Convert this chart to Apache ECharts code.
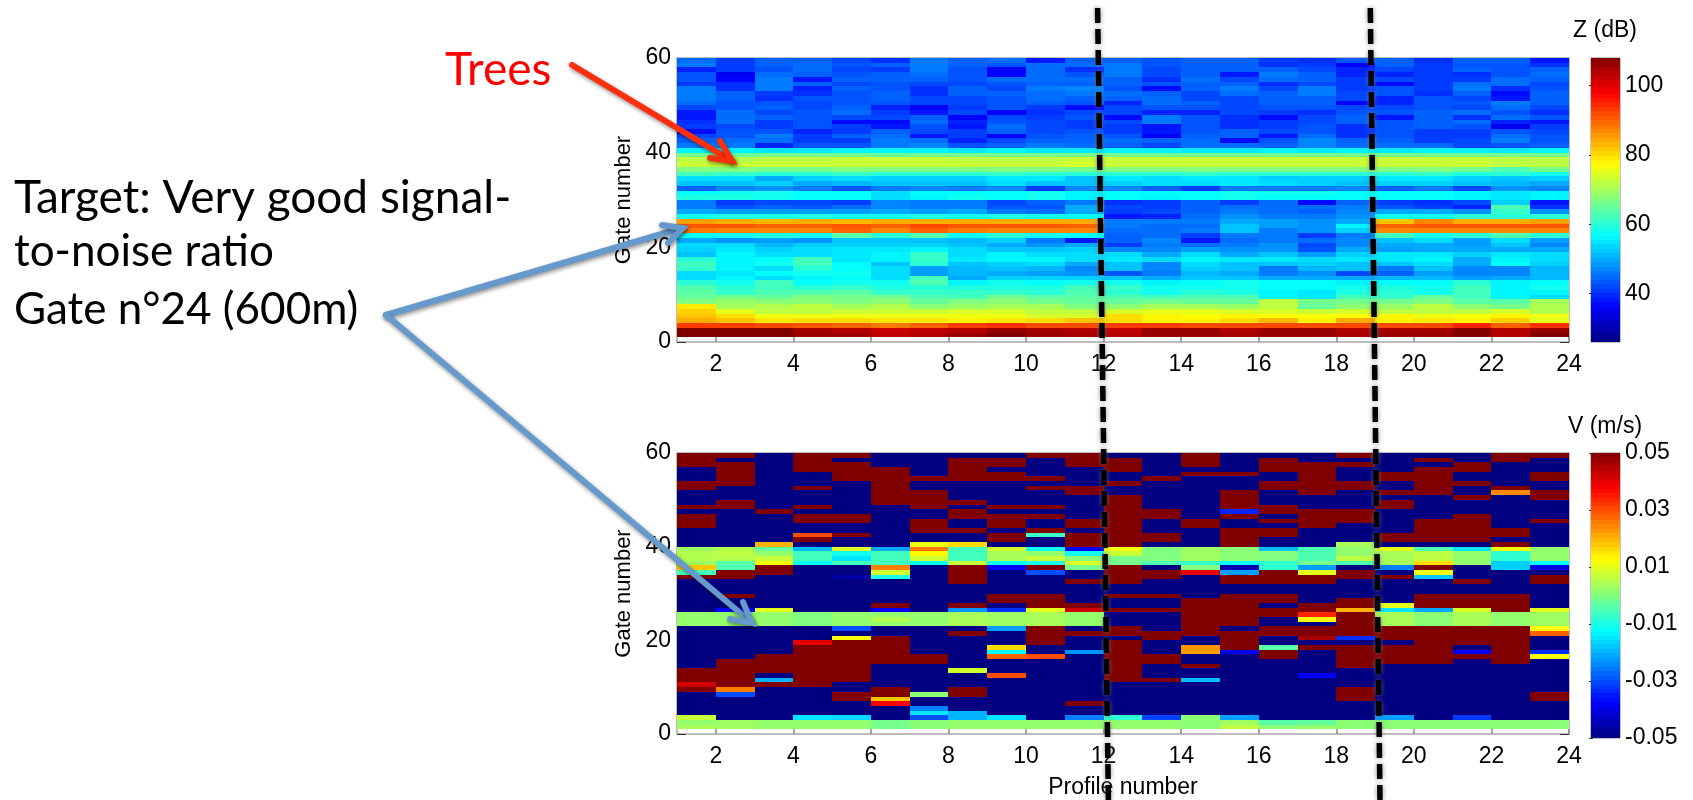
<!DOCTYPE html>
<html><head><meta charset="utf-8">
<style>html,body{margin:0;padding:0;background:#fff}#c{width:1693px;height:800px}</style>
<script src="https://cdn.jsdelivr.net/npm/echarts@6/dist/echarts.min.js"></script>
</head><body><div id="c"></div>
<script>
const xTicks = [2,4,6,8,10,12,14,16,18,20,22,24];
const yTicks = [0,20,40,60];
const zTicks = [40,60,80,100];
const vTicks = [-0.05,-0.03,-0.01,0.01,0.03,0.05];
const zRange = [26,108];
const vRange = [-0.05,0.05];

// Z (dB): rows from gate 59 down to gate 1, one value per profile 1..23
const zRows = [
[45,41,44,44,42,40,46,44,45,38,44,44,43,44,44,41,40,43,44,40,44,44,38],
[46,41,44,45,43,44,46,44,43,45,45,46,43,44,44,40,41,36,44,41,43,43,40],
[39,41,43,45,42,41,46,43,36,45,40,46,42,44,44,44,42,39,42,41,44,43,44],
[43,35,45,44,43,44,45,43,36,45,43,46,42,44,38,46,44,39,39,41,40,43,45],
[43,36,46,38,44,44,44,43,45,45,45,44,40,45,42,45,44,41,42,41,41,45,44],
[41,40,46,44,42,43,42,42,43,44,44,44,43,44,44,40,42,41,37,41,45,45,42],
[46,40,46,39,44,43,40,44,42,46,47,43,37,44,46,42,46,41,43,41,46,40,43],
[46,44,41,40,43,44,40,44,44,45,46,45,44,42,45,44,46,42,43,40,44,37,44],
[46,44,40,43,43,44,42,42,43,45,44,44,45,42,42,44,44,42,39,43,42,38,44],
[45,43,43,42,43,43,42,42,43,44,43,39,45,44,42,44,44,36,39,43,43,46,44],
[42,43,44,42,44,39,36,41,43,41,37,42,43,43,42,43,43,42,42,43,42,45,42],
[38,45,42,43,45,41,38,42,36,40,42,42,39,39,42,41,40,43,43,44,45,43,40],
[38,45,44,43,42,42,44,36,42,41,43,37,46,43,40,37,42,44,38,44,40,45,43],
[40,45,41,43,37,37,45,39,43,42,41,42,46,43,40,41,42,44,43,44,45,39,38],
[41,42,41,43,41,38,43,38,45,42,41,41,38,43,40,41,43,40,43,44,43,35,41],
[37,43,43,39,41,44,42,41,44,42,43,41,38,43,44,42,43,40,43,41,41,43,42],
[42,43,46,41,44,45,38,41,36,43,44,43,36,44,44,38,45,40,43,41,41,45,43],
[44,45,45,41,41,46,45,39,42,44,44,45,44,45,37,43,47,44,44,41,42,46,43],
[46,46,39,43,43,46,47,43,44,46,45,44,42,45,45,44,47,45,45,45,42,43,44],
[56,56,55,55,56,56,56,55,56,55,55,56,56,55,55,56,55,56,55,56,56,55,56],
[66,65,66,66,66,65,66,66,66,66,66,66,66,66,66,66,66,66,66,66,66,66,66],
[72,71,72,72,73,73,73,72,72,72,73,73,73,73,73,73,73,73,73,73,73,72,72],
[73,73,73,73,73,73,73,73,73,73,74,73,73,73,73,73,73,73,73,73,73,72,72],
[67,67,66,66,67,67,67,67,67,67,66,67,67,67,67,67,67,67,67,67,66,63,66],
[62,61,60,60,61,60,60,60,61,60,60,60,60,61,60,60,60,60,60,61,59,60,58],
[54,54,50,53,54,53,53,53,55,55,52,55,54,55,55,53,53,53,55,55,53,52,53],
[52,52,53,50,51,52,52,52,54,52,52,53,54,54,55,54,53,52,53,53,52,51,50],
[44,47,48,46,43,46,47,46,47,41,47,47,44,41,46,46,46,47,44,46,42,48,47],
[57,58,58,57,57,54,57,57,57,58,56,57,57,57,58,58,58,57,57,57,56,55,56],
[59,59,58,57,57,54,56,58,57,58,56,57,56,57,58,57,57,57,57,57,56,55,56],
[46,41,42,42,41,47,46,46,42,44,46,40,41,44,41,45,37,44,41,40,42,53,38],
[46,43,44,43,45,47,46,46,43,43,50,42,41,44,45,45,45,46,43,41,39,63,40],
[50,49,49,49,49,50,49,50,46,45,50,41,42,44,46,45,44,47,50,50,48,61,48],
[58,59,59,59,58,58,59,58,59,58,57,38,39,45,48,46,46,48,58,58,60,60,60],
[85,84,83,84,83,84,84,84,84,84,84,46,46,46,50,49,48,50,82,87,84,84,85],
[91,91,90,90,91,90,92,91,91,91,90,46,45,45,52,49,48,56,90,91,91,91,91],
[88,87,87,87,90,87,90,88,87,87,87,45,45,46,52,46,48,53,87,87,87,87,87],
[57,58,59,58,64,60,63,57,60,58,57,44,45,41,46,46,41,46,62,58,60,63,60],
[50,48,49,48,52,52,52,51,53,46,38,44,47,38,45,46,45,47,52,54,49,54,49],
[54,54,51,53,53,53,53,52,50,48,50,41,46,45,46,48,42,47,50,50,49,52,47],
[53,55,53,54,55,55,56,54,52,52,53,47,47,49,48,48,43,50,49,50,50,50,50],
[52,56,54,54,55,56,61,54,56,54,54,54,50,54,50,52,49,53,55,55,53,55,54],
[60,56,57,62,55,56,61,55,56,56,54,55,54,56,55,55,54,55,55,56,50,56,54],
[62,56,58,62,57,52,60,52,53,54,50,52,47,54,52,52,53,52,52,54,50,57,53],
[61,56,54,60,57,54,49,51,52,51,47,52,47,53,52,46,51,52,46,52,47,47,51],
[54,55,57,58,58,54,49,51,50,49,48,43,46,51,50,46,48,42,44,49,47,47,51],
[54,56,54,56,57,54,62,50,53,53,53,52,50,52,52,50,50,50,51,51,49,50,51],
[60,58,62,57,58,58,63,56,58,57,58,58,56,57,58,57,57,56,57,57,60,56,57],
[63,60,62,60,61,59,60,59,59,59,62,61,58,58,58,57,57,58,59,58,62,56,58],
[64,61,63,63,64,61,61,61,61,60,63,60,58,60,59,56,55,59,60,58,62,56,56],
[65,66,65,67,66,66,63,62,66,64,64,63,62,63,63,56,55,62,61,65,62,56,54],
[67,69,68,68,67,68,65,67,68,66,65,65,66,65,65,72,66,66,66,67,64,64,70],
[79,70,71,72,70,71,68,69,70,70,67,68,70,70,69,72,65,68,69,72,68,66,71],
[81,75,72,72,73,73,73,74,74,72,72,74,75,75,74,74,73,74,72,72,72,74,71],
[82,80,76,76,76,76,76,76,76,74,74,80,78,77,78,77,77,77,78,76,77,78,76],
[84,82,79,80,80,79,79,78,79,80,82,80,78,78,80,83,78,84,78,79,78,81,75],
[93,93,92,91,90,88,90,93,94,92,92,93,93,92,92,92,92,92,92,92,95,90,94],
[108,108,108,105,104,102,103,104,106,105,104,103,106,106,104,106,106,104,105,105,108,104,106],
[108,108,108,106,106,103,104,106,108,106,105,104,106,106,105,106,106,105,106,106,108,104,108]
];

// V (cm/s): for each profile, runs of [value, number of gates] from gate 59 downward
const H = 5, L = -5;
const vRuns = [
[[H,3],[L,3],[H,2],[L,3],[H,1],[L,1],[H,3],[L,4],[.3,1],[.5,2],[.3,1],[1.8,1],[-.6,1],[H,1],[L,7],[.2,3],[L,9],[H,3],[4.2,1],[H,1],[L,5],[.7,1],[.2,1],[.4,1]],
[[H,1],[L,1],[H,5],[L,3],[H,2],[L,8],[.5,1],[.6,1],[.5,1],[-.4,1],[-.5,1],[H,2],[L,3],[H,1],[L,2],[-3.7,1],[.2,3],[L,7],[H,6],[2.5,1],[-3,1],[L,5],[.3,2]],
[[L,12],[H,1],[L,6],[2,1],[-.3,1],[.2,1],[.7,1],[1.3,1],[H,2],[L,7],[1,1],[.2,3],[L,6],[H,4],[L,1],[-2,1],[H,1],[L,7],[.2,2]],
[[H,4],[L,3],[H,1],[L,3],[H,1],[L,1],[H,2],[L,2],[3,1],[H,1],[L,1],[-1.9,1],[-.6,2],[-1.2,1],[L,10],[0,3],[L,3],[4,1],[H,9],[L,6],[-1.5,1],[.2,2]],
[[H,1],[L,1],[H,4],[L,7],[H,2],[L,2],[H,1],[L,2],[.9,1],[-1.1,1],[-1.5,1],[-.6,1],[L,2],[-4.6,1],[L,7],[.2,3],[-3,1],[L,1],[1.2,1],[H,9],[L,2],[H,2],[L,3],[-1.6,1],[.2,2]],
[[L,3],[H,8],[L,9],[-2.1,1],[-.6,3],[2.5,1],[.8,1],[-1,1],[L,5],[H,1],[-3.8,1],[.2,1],[.5,1],[.2,1],[L,2],[H,6],[L,5],[H,2],[1.8,1],[3.8,1],[L,3],[-.1,2]],
[[L,5],[H,1],[L,2],[H,4],[L,2],[H,3],[L,2],[1.1,1],[2.6,1],[1.3,1],[.8,1],[-1.2,1],[L,10],[.2,3],[L,6],[H,2],[L,6],[.1,1],[L,2],[-2.5,1],[-1.5,1],[-3,1],[.1,2]],
[[L,1],[H,5],[L,4],[H,1],[L,1],[H,2],[L,2],[H,1],[L,2],[1.6,1],[-.6,3],[.7,1],[H,4],[L,4],[H,1],[-2.3,1],[.4,3],[L,1],[H,1],[L,7],[.8,1],[L,3],[H,2],[L,3],[-2,2],[.2,2]],
[[L,1],[H,2],[L,1],[H,2],[L,5],[H,1],[L,1],[H,3],[L,1],[H,2],[L,1],[.8,1],[.4,2],[-1.1,1],[-3.8,1],[L,5],[H,2],[L,1],[-3.3,1],[.3,3],[-2.2,1],[L,3],[1.6,1],[-1.2,1],[2.8,1],[L,3],[3,1],[L,8],[-1.5,1],[.2,2]],
[[H,1],[L,4],[H,1],[L,1],[H,1],[L,3],[H,1],[L,1],[H,1],[L,2],[H,1],[-.7,1],[L,2],[-1.2,1],[.2,1],[.7,1],[-1,1],[H,1],[-3,1],[L,4],[H,3],[1,1],[.4,3],[H,4],[L,2],[3,1],[L,13],[.2,2]],
[[H,3],[L,4],[H,2],[L,5],[H,2],[L,1],[H,3],[-3.8,1],[-1.1,1],[.1,1],[.9,1],[-.1,1],[L,2],[H,1],[L,4],[H,1],[4.2,1],[.2,3],[L,1],[H,1],[L,3],[-2.3,1],[L,10],[H,1],[L,2],[-2.5,1],[.2,2]],
[[L,1],[H,3],[L,2],[H,1],[L,2],[H,11],[1.2,1],[.7,1],[-.1,2],[H,4],[L,2],[H,1],[L,2],[H,1],[L,3],[H,2],[L,1],[H,9],[L,7],[-.8,1],[.2,2]],
[[L,5],[H,1],[L,6],[H,2],[L,3],[H,2],[L,1],[0,3],[-.5,1],[L,1],[H,2],[L,3],[H,1],[L,2],[H,1],[L,4],[H,2],[L,3],[H,2],[L,3],[H,1],[L,7],[-3.1,1],[.2,2]],
[[H,3],[L,1],[H,1],[L,9],[H,2],[L,4],[.3,3],[-.7,1],[0,1],[4,1],[L,5],[H,8],[L,2],[2.3,1],[2.2,1],[L,2],[H,1],[L,2],[-1.9,1],[L,7],[.1,3]],
[[L,4],[H,1],[L,3],[H,4],[-3.4,1],[H,1],[L,2],[H,4],[.1,3],[-1.2,1],[-4.5,1],[-2.2,1],[H,2],[L,2],[H,7],[L,1],[H,4],[-3.9,1],[L,13],[-2.2,1],[.3,1],[.6,1]],
[[L,1],[H,3],[L,2],[H,2],[L,3],[H,2],[L,1],[H,1],[L,1],[H,2],[L,2],[-1.9,1],[0,2],[-.8,2],[H,3],[L,2],[H,2],[L,1],[H,2],[L,2],[H,2],[L,2],[-.4,1],[H,2],[L,13],[-.4,1],[.1,1]],
[[L,2],[H,7],[L,3],[H,4],[L,4],[-.5,3],[-.1,1],[-2.2,1],[1,1],[H,2],[L,4],[H,2],[3.4,1],[1.2,1],[L,1],[H,2],[4.6,1],[L,1],[H,1],[L,5],[-3.8,1],[L,9],[-.3,1],[.2,1]],
[[H,1],[L,1],[H,1],[L,3],[H,2],[L,4],[H,3],[L,4],[.4,1],[.2,2],[.6,1],[-.5,1],[L,1],[H,2],[L,4],[H,2],[2,1],[H,5],[-3.3,1],[L,1],[H,5],[L,4],[H,3],[L,4],[.1,2]],
[[L,4],[H,2],[L,2],[H,1],[L,1],[H,2],[L,5],[H,2],[L,1],[1,1],[.4,3],[-2.5,1],[L,1],[H,1],[L,5],[1,1],[-1.5,1],[.4,3],[H,3],[L,1],[H,4],[L,11],[-2.2,1],[.1,2]],
[[L,1],[H,1],[L,1],[H,6],[L,5],[H,5],[L,1],[-.5,1],[.6,2],[1.6,1],[H,1],[1.1,1],[-1.8,1],[L,3],[H,3],[-2.1,1],[.1,3],[H,8],[L,12],[.1,2]],
[[L,2],[H,2],[L,2],[H,1],[L,2],[H,1],[L,3],[H,6],[L,1],[-1.5,1],[.2,3],[L,3],[H,1],[L,2],[H,3],[.9,1],[.4,3],[H,4],[L,1],[-3.8,1],[H,1],[L,12],[-3.2,1],[.1,2]],
[[H,2],[L,5],[H,1],[2.4,1],[L,7],[H,2],[L,1],[H,1],[1.2,1],[-.8,2],[-1.7,2],[L,5],[H,4],[.2,3],[H,8],[L,12],[.1,2]],
[[H,1],[L,3],[H,2],[L,2],[H,2],[L,4],[H,1],[L,5],[.2,3],[-1.2,1],[-4,1],[L,1],[H,2],[L,5],[1,1],[.3,3],[1.2,1],[2.8,1],[L,3],[-3.3,1],[1.2,1],[L,7],[H,2],[L,4],[.1,2]]
];

// jet colour stops, evenly spaced
const jet = ['#000080','#0000ff','#0080ff','#00ffff','#80ff80','#ffff00','#ff8000','#ff0000','#800000'];
const AX = {left:677,width:892}, CB = {left:1591,width:29};
const P1 = {top:58,height:284}, P2 = {top:453,height:285};
const font = 'Liberation Sans, Arial, sans-serif';

function bandData(r){const n=64,d=[];for(let i=0;i<n;i++){const a=r[0]+(r[1]-r[0])*i/n,b=r[0]+(r[1]-r[0])*(i+1)/n;d.push([0,a,(a+b)/2,1,b]);}return d;}
const zData=[]; zRows.forEach((row,i)=>row.forEach((v,j)=>zData.push([j+1,59-i,v,j+2,60-i])));
const vData=[]; vRuns.forEach((runs,j)=>{let g=59;runs.forEach(([v,n])=>{for(let k=0;k<n;k++){vData.push([j+1,g,v/100,j+2,g+1]);g--;}});});

function renderCell(params,api){
  const p1=api.coord([api.value(0),api.value(4)]),p2=api.coord([api.value(3),api.value(1)]);
  const x=Math.round(p1[0]),y=Math.round(p1[1]);
  return {type:'rect',shape:{x:x,y:y,width:Math.round(p2[0])-x,height:Math.round(p2[1])-y},style:{fill:api.visual('color')}};
}
function cells(data,xi,yi){return {type:'custom',xAxisIndex:xi,yAxisIndex:yi,data:data,renderItem:renderCell,encode:{x:[0,3],y:[1,4]},dimensions:['a','b','c','d','e'],silent:true,animation:false,progressive:0,clip:true,z:2};}

const grids=[
 {left:AX.left,width:AX.width,top:P1.top,height:P1.height,show:true,borderColor:'#a8a8a8',borderWidth:1.5,backgroundColor:'#fff'},
 {left:AX.left,width:AX.width,top:P2.top,height:P2.height,show:true,borderColor:'#a8a8a8',borderWidth:1.5,backgroundColor:'#fff'},
 {left:CB.left,width:CB.width,top:P1.top,height:P1.height,show:true,borderColor:'#888',borderWidth:1},
 {left:CB.left,width:CB.width,top:P2.top,height:P2.height,show:true,borderColor:'#888',borderWidth:1}
];
const xMain=(g,name)=>({type:'value',gridIndex:g,min:1,max:24,name:name,nameLocation:'middle',nameGap:42,nameTextStyle:{fontFamily:font,fontSize:23,color:'#000'},
  axisLine:{show:false},splitLine:{show:false},axisTick:{show:true,inside:true,length:5,customValues:xTicks,lineStyle:{color:'#888',width:1.5}},
  axisLabel:{customValues:xTicks,margin:11,fontFamily:font,fontSize:23,color:'#000'}});
const yMain=g=>({type:'value',gridIndex:g,min:0,max:60,name:'Gate number',nameLocation:'middle',nameRotate:90,nameGap:39,nameTextStyle:{fontFamily:font,fontSize:22,color:'#000'},
  axisLine:{show:false},splitLine:{show:false},axisTick:{show:true,inside:true,length:9,customValues:yTicks,lineStyle:{color:'#333',width:1}},
  axisLabel:{customValues:yTicks,margin:6,padding:[0,0,5,0],fontFamily:font,fontSize:23,color:'#000'}});
const yRight=g=>({type:'value',gridIndex:g,position:'right',min:0,max:60,axisLine:{show:false},splitLine:{show:false},axisLabel:{show:false},
  axisTick:{show:true,inside:true,length:9,customValues:yTicks,lineStyle:{color:'#333',width:1}}});
const xCb=g=>({type:'value',gridIndex:g,min:0,max:1,show:false});
const yCb=(g,r,t,fmt)=>({type:'value',gridIndex:g,position:'right',min:r[0],max:r[1],axisLine:{show:false},splitLine:{show:false},
  axisTick:{show:true,inside:true,length:2,customValues:t,lineStyle:{color:'#333'}},
  axisLabel:{customValues:t,margin:5,fontFamily:font,fontSize:23,color:'#000',formatter:fmt}});
const yCbL=(g,r,t)=>({type:'value',gridIndex:g,position:'left',min:r[0],max:r[1],axisLine:{show:false},splitLine:{show:false},axisLabel:{show:false},
  axisTick:{show:true,inside:true,length:2,customValues:t,lineStyle:{color:'#333'}}});

const shadow={shadowColor:'rgba(0,0,0,0.45)',shadowBlur:4,shadowOffsetX:1,shadowOffsetY:2};
const BLUE='#6699cc', RED='#ff2f0e';
function seg(a,b,color,w,extra){return {type:'line',z:100,shape:{x1:a[0],y1:a[1],x2:b[0],y2:b[1]},style:Object.assign({stroke:color,lineWidth:w,lineCap:'round'},shadow,extra||{})};}
function head(a,t,b,color,w){return {type:'polyline',z:100,shape:{points:[a,t,b]},style:Object.assign({stroke:color,fill:null,lineWidth:w,lineJoin:'miter',lineCap:'round'},shadow)};}
function txt(s,x,y,size,color){return {type:'text',z:99,x:x,y:y,style:{text:s,fontFamily:'Lato, Carlito, sans-serif',fontSize:size,fill:color,textVerticalAlign:'middle'}};}
function ttl(s,x,y){return {type:'text',z:99,x:x,y:y,style:{text:s,fontFamily:font,fontSize:23,fill:'#000',textAlign:'center',textVerticalAlign:'middle'}};}
const dash={lineDash:[15,6],lineCap:'butt',shadowColor:'rgba(120,120,120,0.8)',shadowBlur:5,shadowOffsetX:0,shadowOffsetY:0};

const graphics=[
 txt('Trees',445,70,46,'#ff0000'),
 txt('Target: Very good signal-',14,198,46,'#000'),
 txt('to-noise ratio',14,252,44,'#000'),
 txt('Gate n\u00b024 (600m)',14,310,44,'#000'),
 ttl('Z (dB)',1605,31),
 ttl('V (m/s)',1605,427),
 seg([1097.6,8],[1108.4,800],'#000',5.5,dash),
 seg([1370.3,8],[1380,800],'#000',5.5,dash),
 seg([572,65],[732,161],RED,6),
 head([710,158],[732,161],[720,141],RED,6),
 seg([386,315],[682,228],BLUE,6),
 head([662,225],[683,228],[668,243],BLUE,6),
 seg([386,315],[751,622],BLUE,6),
 head([730,619],[752,623],[743,602],BLUE,6)
];

const chart=echarts.init(document.getElementById('c'),null,{renderer:'canvas'});
chart.setOption({
 animation:false,
 backgroundColor:'#fff',
 grid:grids,
 xAxis:[xMain(0,''),xMain(1,'Profile number'),xCb(2),xCb(3)],
 yAxis:[yMain(0),yMain(1),yCb(2,zRange,zTicks,v=>String(v)),yCb(3,vRange,vTicks,v=>(+v).toFixed(2)),yRight(0),yRight(1),yCbL(2,zRange,zTicks),yCbL(3,vRange,vTicks)],
 visualMap:[
  {type:'continuous',show:false,seriesIndex:[0,2],dimension:2,min:zRange[0],max:zRange[1],inRange:{color:jet}},
  {type:'continuous',show:false,seriesIndex:[1,3],dimension:2,min:vRange[0],max:vRange[1],inRange:{color:jet}}
 ],
 series:[cells(zData,0,0),cells(vData,1,1),cells(bandData(zRange),2,2),cells(bandData(vRange),3,3)],
 graphic:{elements:graphics}
});
</script></body></html>
